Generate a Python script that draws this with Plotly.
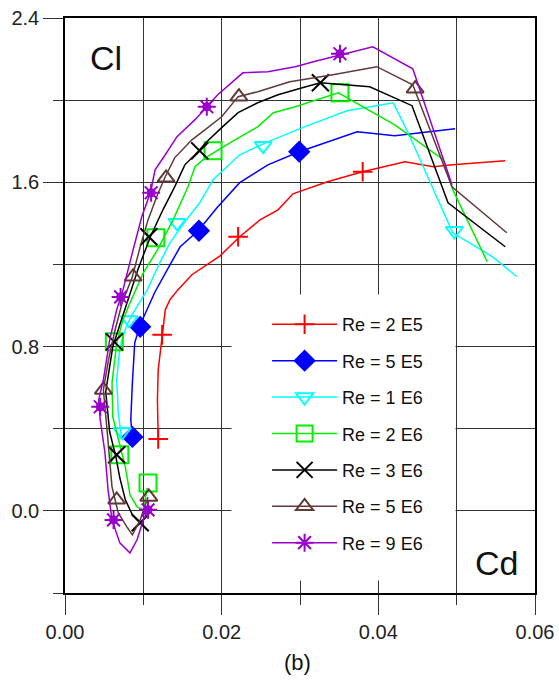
import plotly.graph_objects as go

# ---------------- data (Cd, Cl) ----------------
labels = ["Re = 2 E5", "Re = 5 E5", "Re = 1 E6", "Re = 2 E6", "Re = 3 E6", "Re = 5 E6", "Re = 9 E6"]
colors = ["#FF0000", "#0000FF", "#00FFFF", "#00EE00", "#000000", "#603A36", "#9900CC"]
symbols = ["cross-thin-open", "diamond", "triangle-down-open", "square-open", "x-thin-open", "triangle-up-open", "asterisk-open"]
sizes = [14, 15, 15, 17, 17, 15, 15]

red_cd = [0.0119, 0.0118, 0.0119, 0.0125, 0.0128, 0.0134, 0.0144, 0.0162, 0.0198, 0.0223, 0.0249, 0.0272, 0.0291, 0.0335, 0.0380, 0.0434, 0.0470, 0.0495, 0.0562]
red_cl = [0.346, 0.541, 0.687, 0.882, 0.979, 1.028, 1.076, 1.150, 1.242, 1.335, 1.417, 1.466, 1.544, 1.603, 1.651, 1.700, 1.676, 1.685, 1.705]
red_mk_cd = [0.0119, 0.0124, 0.0221, 0.0380]
red_mk_cl = [0.350, 0.857, 1.335, 1.651]

blue_cd = [0.0086, 0.0084, 0.0086, 0.0089, 0.0096, 0.0115, 0.0134, 0.0147, 0.0170, 0.0194, 0.0223, 0.0259, 0.0299, 0.0373, 0.0421, 0.0498]
blue_cl = [0.360, 0.443, 0.623, 0.818, 0.906, 1.067, 1.198, 1.286, 1.364, 1.476, 1.598, 1.685, 1.749, 1.846, 1.827, 1.861]
blue_mk_cd = [0.0086, 0.0096, 0.0171, 0.0299]
blue_mk_cl = [0.360, 0.896, 1.364, 1.749]

cyan_cd = [0.0072, 0.0068, 0.0066, 0.0070, 0.0079, 0.0087, 0.0105, 0.0121, 0.0134, 0.0153, 0.0172, 0.0189, 0.0223, 0.0259, 0.0303, 0.0360, 0.0419, 0.0438, 0.0495, 0.0546, 0.0577]
cyan_cl = [0.360, 0.477, 0.638, 0.799, 0.906, 0.964, 1.076, 1.208, 1.305, 1.408, 1.500, 1.612, 1.734, 1.797, 1.866, 1.948, 1.987, 1.841, 1.354, 1.237, 1.140]
cyan_mk_cd = [0.0073, 0.0082, 0.0143, 0.0253, 0.0497]
cyan_mk_cl = [0.385, 0.930, 1.403, 1.778, 1.364]

green_cd = [0.0105, 0.0100, 0.0092, 0.0083, 0.0077, 0.0068, 0.0061, 0.0060, 0.0066, 0.0074, 0.0083, 0.0100, 0.0118, 0.0138, 0.0157, 0.0166, 0.0179, 0.0217, 0.0246, 0.0266, 0.0294, 0.0349, 0.0421, 0.0483, 0.0495, 0.0539]
green_cl = [0.112, 0.005, 0.019, 0.078, 0.214, 0.346, 0.458, 0.623, 0.818, 0.930, 1.013, 1.159, 1.271, 1.417, 1.578, 1.676, 1.719, 1.807, 1.870, 1.939, 1.968, 2.036, 1.880, 1.710, 1.564, 1.213]
green_mk_cd = [0.0106, 0.0070, 0.0063, 0.0116, 0.0189, 0.0351]
green_mk_cl = [0.136, 0.273, 0.823, 1.330, 1.753, 2.036]

black_cd = [0.0096, 0.0086, 0.0077, 0.0070, 0.0065, 0.0057, 0.0052, 0.0061, 0.0070, 0.0077, 0.0093, 0.0109, 0.0125, 0.0140, 0.0153, 0.0166, 0.0181, 0.0200, 0.0221, 0.0246, 0.0272, 0.0303, 0.0326, 0.0389, 0.0443, 0.0489, 0.0562]
black_cl = [-0.054, -0.019, 0.054, 0.161, 0.263, 0.385, 0.580, 0.799, 0.906, 0.989, 1.174, 1.335, 1.466, 1.578, 1.685, 1.734, 1.797, 1.866, 1.939, 1.987, 2.026, 2.060, 2.085, 2.065, 1.973, 1.500, 1.286]
black_mk_cd = [0.0096, 0.0066, 0.0063, 0.0107, 0.0172, 0.0326]
black_mk_cl = [-0.058, 0.273, 0.823, 1.335, 1.753, 2.085]

brown_cd = [0.0106, 0.0096, 0.0086, 0.0079, 0.0068, 0.0060, 0.0054, 0.0049, 0.0056, 0.0064, 0.0073, 0.0086, 0.0096, 0.0106, 0.0118, 0.0128, 0.0140, 0.0162, 0.0179, 0.0200, 0.0221, 0.0246, 0.0287, 0.0342, 0.0398, 0.0444, 0.0494, 0.0564]
brown_cl = [0.068, -0.044, -0.117, -0.078, -0.010, 0.117, 0.380, 0.589, 0.745, 0.882, 1.013, 1.140, 1.286, 1.417, 1.539, 1.627, 1.719, 1.807, 1.856, 1.919, 2.017, 2.041, 2.090, 2.124, 2.163, 2.075, 1.578, 1.354]
brown_mk_cd = [0.0107, 0.0066, 0.0049, 0.0087, 0.0129, 0.0222, 0.0447]
brown_mk_cl = [0.068, 0.054, 0.589, 1.140, 1.622, 2.017, 2.056]

purple_cd = [0.0106, 0.0100, 0.0092, 0.0083, 0.0070, 0.0060, 0.0055, 0.0051, 0.0045, 0.0043, 0.0049, 0.0057, 0.0066, 0.0074, 0.0086, 0.0098, 0.0109, 0.0115, 0.0128, 0.0143, 0.0166, 0.0195, 0.0227, 0.0259, 0.0294, 0.0317, 0.0393, 0.0444, 0.0494]
purple_cl = [0.005, -0.044, -0.141, -0.205, -0.156, -0.044, 0.102, 0.283, 0.443, 0.541, 0.638, 0.833, 0.979, 1.076, 1.257, 1.432, 1.549, 1.661, 1.734, 1.822, 1.905, 2.026, 2.133, 2.138, 2.163, 2.187, 2.260, 2.153, 1.588]
purple_mk_cd = [0.0106, 0.0062, 0.0045, 0.0071, 0.0110, 0.0181, 0.0351]
purple_mk_cl = [0.005, -0.044, 0.507, 1.042, 1.549, 1.968, 2.226]

curves = [(red_cd, red_cl), (blue_cd, blue_cl), (cyan_cd, cyan_cl), (green_cd, green_cl),
          (black_cd, black_cl), (brown_cd, brown_cl), (purple_cd, purple_cl)]
marks = [(red_mk_cd, red_mk_cl), (blue_mk_cd, blue_mk_cl), (cyan_mk_cd, cyan_mk_cl), (green_mk_cd, green_mk_cl),
         (black_mk_cd, black_mk_cl), (brown_mk_cd, brown_mk_cl), (purple_mk_cd, purple_mk_cl)]

x_range = [0, 0.06]
y_range = [-0.4, 2.4]

FONT = "Liberation Sans, Arial, sans-serif"
fig = go.Figure()

for i in range(len(labels)):
    g = "g%d" % i
    c = colors[i]
    fig.add_trace(go.Scatter(x=curves[i][0], y=curves[i][1], mode="lines",
                             line=dict(color=c, width=1.5), legendgroup=g, showlegend=False,
                             hoverinfo="skip"))
    fig.add_trace(go.Scatter(x=marks[i][0], y=marks[i][1], mode="markers",
                             marker=dict(symbol=symbols[i], size=sizes[i], color=c,
                                         line=dict(color=c, width=2)),
                             legendgroup=g, showlegend=False))
    if symbols[i] == "asterisk-open":
        fig.add_trace(go.Scatter(x=marks[i][0], y=marks[i][1], mode="markers",
                                 marker=dict(symbol="circle-open", size=7, color=c,
                                             line=dict(color=c, width=2)),
                                 legendgroup=g, showlegend=False, hoverinfo="skip"))
    # legend entry
    fig.add_trace(go.Scatter(x=[None], y=[None], mode="lines+markers", name=labels[i],
                             line=dict(color=c, width=1.5),
                             marker=dict(symbol=symbols[i], size=sizes[i], color=c,
                                         line=dict(color=c, width=2)),
                             legendgroup=g, showlegend=True))

axis_common = dict(showline=True, mirror=True, linecolor="#000", linewidth=1.5,
                   showgrid=True, gridcolor="#333", gridwidth=1,
                   ticks="outside", tickcolor="#333", ticklen=20, tickwidth=1,
                   zeroline=False, automargin=False, ticklabeloverflow="allow",
                   tickfont=dict(family=FONT, size=20, color="#222"))

fig.update_xaxes(range=x_range, dtick=0.02, tick0=0, tickformat=".2f",
                 minor=dict(dtick=0.01, ticklen=10, tickcolor="#333", ticks="outside",
                            showgrid=True, gridcolor="#333", gridwidth=1),
                 **axis_common)
fig.update_yaxes(range=y_range, dtick=0.8, tick0=0, tickformat=".1f",
                 minor=dict(dtick=0.4, ticklen=10, tickcolor="#333", ticks="outside",
                            showgrid=True, gridcolor="#333", gridwidth=1),
                 **axis_common)

fig.add_annotation(text="Cl", xref="paper", yref="paper", x=0.0872, y=0.930,
                   xanchor="center", yanchor="middle",
                   showarrow=False, font=dict(family=FONT, size=34, color="#111"))
fig.add_annotation(text="Cd", xref="paper", yref="paper", x=0.919, y=0.052,
                   xanchor="center", yanchor="middle",
                   showarrow=False, font=dict(family=FONT, size=34, color="#111"))
fig.add_annotation(text="(b)", xref="paper", yref="paper", x=0.4957, y=-0.1217,
                   xanchor="center", yanchor="middle",
                   showarrow=False, font=dict(family=FONT, size=22, color="#111"))

fig.update_layout(
    width=559, height=688,
    margin=dict(l=65, r=24, t=18, b=95, autoexpand=False),
    paper_bgcolor="white", plot_bgcolor="white",
    font=dict(family=FONT, color="#111"),
    showlegend=True,
    legend=dict(x=0.43, y=0.499, xanchor="left", yanchor="top",
                bgcolor="rgba(0,0,0,0)", borderwidth=0,
                itemwidth=65, tracegroupgap=10, traceorder="grouped",
                font=dict(family=FONT, size=18, color="#111")),
    shapes=[dict(type="rect", xref="paper", yref="paper", x0=0.3553, x1=0.8298, y0=0.0226, y1=0.5183,
                 fillcolor="#FFFFFF", line=dict(color="#FFFFFF", width=1), layer="above")],
)

fig.write_html("out.html", config={"displayModeBar": False},
               post_script="document.body.style.margin='0';document.body.style.overflow='hidden';")
